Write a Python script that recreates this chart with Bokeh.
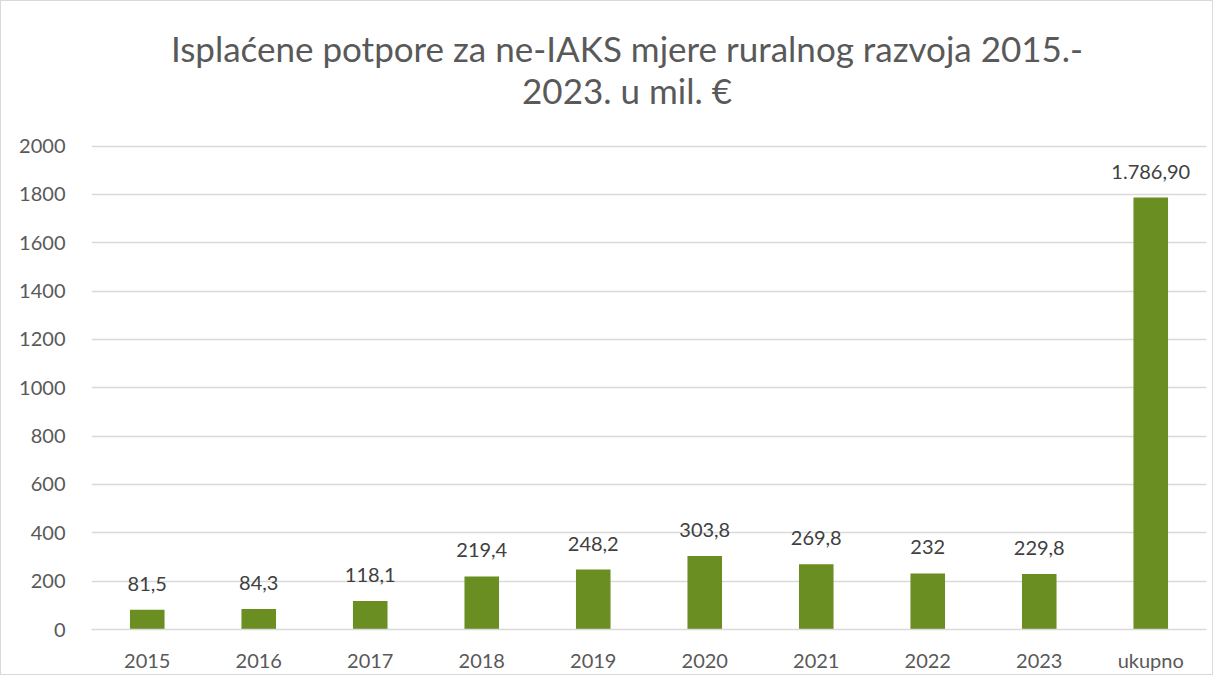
from bokeh.plotting import figure
from bokeh.models import ColumnDataSource, Label, FixedTicker, Range1d
from bokeh.core.properties import value
from bokeh.embed import file_html
from bokeh.resources import INLINE

categories = ["2015", "2016", "2017", "2018", "2019", "2020", "2021", "2022", "2023", "ukupno"]
values = [81.5, 84.3, 118.1, 219.4, 248.2, 303.8, 269.8, 232.0, 229.8, 1786.9]
labels = ["81,5", "84,3", "118,1", "219,4", "248,2", "303,8", "269,8", "232", "229,8", "1.786,90"]
y_ticks = [0, 200, 400, 600, 800, 1000, 1200, 1400, 1600, 1800, 2000]
title_line1 = "Isplaćene potpore za ne-IAKS mjere ruralnog razvoja 2015.-"
title_line2 = "2023. u mil. €"
Y_MAX = 2000

FONT = "Lato"
src = ColumnDataSource(dict(cat=categories, val=values, lab=labels))

# the frame extends above the value axis to hold the two-line chart title
p = figure(x_range=categories, y_range=Range1d(0, 2565), width=1213, height=675,
           output_backend="svg", toolbar_location=None,
           min_border_left=90, min_border_right=8, min_border_bottom=47, min_border_top=8)
p.styles = {"border": "1px solid #d9d9d9"}

mid = len(categories) / 2
for txt, off in ((title_line1, 98), (title_line2, 56)):
    p.add_layout(Label(x=mid, y=Y_MAX, x_offset=-22, y_offset=off, text=txt,
                       text_align="center", text_baseline="middle", text_font=FONT,
                       text_font_size="35px", text_color="#595959"))

p.vbar(x="cat", top="val", width=0.31, source=src, fill_color="#6B8E23", line_color=None)
p.text(x="cat", y="val", text="lab", source=src, text_align="center", text_baseline="bottom",
       y_offset=-19, text_font=value(FONT), text_font_size="20px", text_color="#404040")

p.outline_line_color = None
p.xgrid.grid_line_color = None
p.ygrid.grid_line_color = "#d9d9d9"
p.ygrid.grid_line_width = 1.3
p.yaxis.ticker = FixedTicker(ticks=y_ticks)
p.yaxis.axis_line_color = None
p.yaxis.major_tick_line_color = None
p.yaxis.minor_tick_line_color = None
p.yaxis.major_label_standoff = 20
p.xaxis.axis_line_color = "#d9d9d9"
p.xaxis.axis_line_width = 1.3
p.xaxis.major_tick_line_color = None
p.xaxis.major_label_standoff = 12
for ax in (p.xaxis, p.yaxis):
    ax.major_label_text_font = FONT
    ax.major_label_text_font_size = "20px"
    ax.major_label_text_color = "#595959"

open("out.html", "w").write(file_html(p, INLINE))
